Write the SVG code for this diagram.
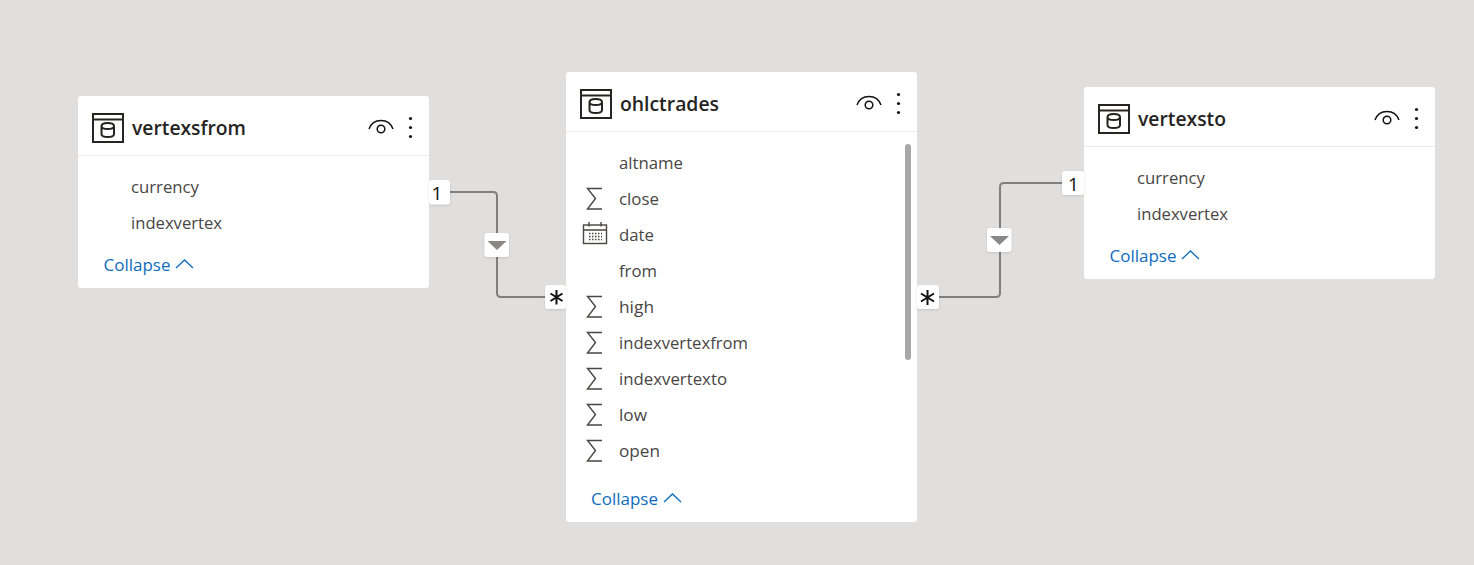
<svg xmlns="http://www.w3.org/2000/svg" width="1474" height="565" viewBox="0 0 1474 565">
<style>
.card{fill:#fff}
.div{stroke:#edebe9;stroke-width:1;fill:none}
.title{font:600 20px "Open Sans","Noto Sans",sans-serif;fill:#252423}
.field{font:400 17px "Open Sans","Noto Sans",sans-serif;fill:#484644}
.link{font:400 17px "Open Sans","Noto Sans",sans-serif;fill:#0f6cbd}
.ico{fill:none;stroke:#252423;stroke-width:2}
.thin{fill:none;stroke:#484644;stroke-width:1.400}
.chev{fill:none;stroke:#0f6cbd;stroke-width:1.300}
.conn{fill:none;stroke:#807f7d;stroke-width:2}
.badge{fill:#fff;filter:url(#sh)}
.mark{font:400 19px "Open Sans","Noto Sans",sans-serif;fill:#111;text-anchor:middle}
.star{stroke:#111;stroke-width:2;fill:none}
.tri{fill:#8a8886}
</style>
<defs>
<filter id="sh" x="-20%" y="-20%" width="140%" height="140%"><feDropShadow dx="0" dy="1" stdDeviation="1" flood-color="#000" flood-opacity=".12"/></filter>
<g id="tbl"><rect class="ico" x="15" y="18" width="30" height="28"/><path class="ico" d="M15 23.500H45"/><path class="ico" d="M23.500 30c0-4 12.500-4 12.500 0v8c0 4-12.500 4-12.500 0zM23.500 30c0 4 12.500 4 12.500 0"/></g>
<g id="act"><path d="M-12 3C-8-8.500 8-8.500 12 3" fill="none" stroke="#111" stroke-width="1.500"/><circle cx="0" cy="3" r="3.800" fill="none" stroke="#111" stroke-width="1.500"/><circle cx="29.500" cy="-7.500" r="1.600" fill="#111"/><circle cx="29.500" cy="1.500" r="1.600" fill="#111"/><circle cx="29.500" cy="10.500" r="1.600" fill="#111"/></g>
<path id="sum" class="thin" d="M16-10H1.500L9.500 0 1.500 10.500H16"/>
<path id="up" class="chev" d="M0 6 8.500-2 17 6"/>
</defs>
<rect width="1474" height="565" fill="#e1dfdd"/>
<g id="connectors">
<path class="conn" d="M450 192H493q4 0 4 4V293q0 4 4 4H546"/>
<path class="conn" d="M938 297H996q4 0 4-4V187q0-4 4-4H1064"/>
</g>
<g id="vertexsfrom">
<rect class="card" x="78" y="96" width="351" height="192" rx="3"/>
<path class="div" d="M78 155.500H429"/>
<use href="#tbl" x="78" y="96"/>
<text class="title" x="132" y="135" textLength="114" lengthAdjust="spacingAndGlyphs">vertexsfrom</text>
<use href="#act" x="381" y="126"/>
<text class="field" x="131" y="193" textLength="68" lengthAdjust="spacingAndGlyphs">currency</text>
<text class="field" x="131" y="229" textLength="91" lengthAdjust="spacingAndGlyphs">indexvertex</text>
<text class="link" x="103.500" y="271" textLength="67" lengthAdjust="spacingAndGlyphs">Collapse</text>
<use href="#up" x="176" y="262"/>
</g>
<g id="ohlctrades">
<rect class="card" x="566" y="72" width="351" height="450" rx="3"/>
<path class="div" d="M566 131.500H917"/>
<use href="#tbl" x="566" y="72"/>
<text class="title" x="620" y="111" textLength="99" lengthAdjust="spacingAndGlyphs">ohlctrades</text>
<use href="#act" x="869" y="102"/>
<rect x="905" y="144" width="6" height="216" rx="3" fill="#a8a8a8"/>
<text class="field" x="619" y="169" textLength="64" lengthAdjust="spacingAndGlyphs">altname</text>
<use href="#sum" x="586" y="198.500"/>
<text class="field" x="619" y="205" textLength="40" lengthAdjust="spacingAndGlyphs">close</text>
<g class="thin"><rect x="583.500" y="225" width="23" height="18.500"/><path d="M583.500 230H606.500M589 222v4.500M601 222v4.500"/><path stroke-dasharray="1.500 1.500" d="M589 233.500H602M589 236.500H602M589 239.500H602"/></g>
<text class="field" x="619" y="241" textLength="35" lengthAdjust="spacingAndGlyphs">date</text>
<text class="field" x="619" y="277" textLength="38" lengthAdjust="spacingAndGlyphs">from</text>
<use href="#sum" x="586" y="306.500"/>
<text class="field" x="619" y="313" textLength="35" lengthAdjust="spacingAndGlyphs">high</text>
<use href="#sum" x="586" y="342.500"/>
<text class="field" x="619" y="349" textLength="129" lengthAdjust="spacingAndGlyphs">indexvertexfrom</text>
<use href="#sum" x="586" y="378.500"/>
<text class="field" x="619" y="385" textLength="108" lengthAdjust="spacingAndGlyphs">indexvertexto</text>
<use href="#sum" x="586" y="414.500"/>
<text class="field" x="619" y="421" textLength="28" lengthAdjust="spacingAndGlyphs">low</text>
<use href="#sum" x="586" y="450.500"/>
<text class="field" x="619" y="457" textLength="41" lengthAdjust="spacingAndGlyphs">open</text>
<text class="link" x="591" y="505" textLength="67" lengthAdjust="spacingAndGlyphs">Collapse</text>
<use href="#up" x="664" y="496"/>
</g>
<g id="vertexsto">
<rect class="card" x="1084" y="87" width="351" height="192" rx="3"/>
<path class="div" d="M1084 146.500H1435"/>
<use href="#tbl" x="1084" y="87"/>
<text class="title" x="1138" y="126" textLength="88" lengthAdjust="spacingAndGlyphs">vertexsto</text>
<use href="#act" x="1387" y="117"/>
<text class="field" x="1137" y="184" textLength="68" lengthAdjust="spacingAndGlyphs">currency</text>
<text class="field" x="1137" y="220" textLength="91" lengthAdjust="spacingAndGlyphs">indexvertex</text>
<text class="link" x="1109.500" y="262" textLength="67" lengthAdjust="spacingAndGlyphs">Collapse</text>
<use href="#up" x="1182" y="253"/>
</g>
<g id="badges">
<g id="badge-from-one"><rect class="badge" x="429" y="180" width="21" height="24.500" rx="3"/><text class="mark" x="437" y="200">1</text></g>
<g id="badge-from-filter"><rect class="badge" x="484.500" y="233" width="24.500" height="24" rx="3"/><path class="tri" d="M487.500 241H506.500L497 250z"/></g>
<g id="badge-from-many"><rect class="badge" x="545" y="285" width="21" height="24" rx="3"/><path class="star" d="M556.500 290V304.500M550.500 293.500 562.500 301M562.500 293.500 550.500 301"/></g>
<g id="badge-to-many"><rect class="badge" x="917" y="285" width="22" height="24" rx="3"/><path class="star" d="M927.500 290V305M921 293.500 934 301.500M934 293.500 921 301.500"/></g>
<g id="badge-to-filter"><rect class="badge" x="987" y="228" width="24.500" height="24" rx="3"/><path class="tri" d="M990 236H1009L999.500 245z"/></g>
<g id="badge-to-one"><rect class="badge" x="1062" y="171" width="22" height="24" rx="3"/><text class="mark" x="1073.500" y="191">1</text></g>
</g>
</svg>
